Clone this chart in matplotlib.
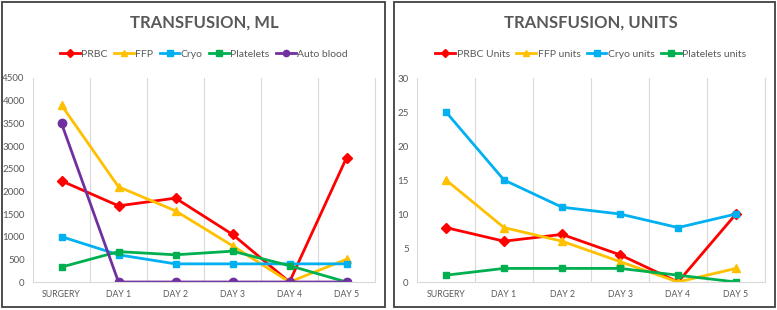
import matplotlib.pyplot as plt
from matplotlib.patches import Rectangle

# categories
days = ['SURGERY', 'DAY 1', 'DAY 2', 'DAY 3', 'DAY 4', 'DAY 5']

# transfusion in ml
prbc_ml = [2230, 1680, 1850, 1050, 0, 2740]
ffp_ml = [3900, 2100, 1570, 800, 0, 500]
cryo_ml = [1000, 600, 400, 400, 400, 400]
plt_ml = [330, 670, 600, 680, 360, 0]
auto_ml = [3500, 0, 0, 0, 0, 0]

# transfusion in units
prbc_u = [8, 6, 7, 4, 0, 10]
ffp_u = [15, 8, 6, 3, 0, 2]
cryo_u = [25, 15, 11, 10, 8, 10]
plt_u = [1, 2, 2, 2, 1, 0]

RED = '#FF0000'
GOLD = '#FFC000'
CYAN = '#00B0F0'
GREEN = '#00B050'
PURPLE = '#7030A0'
GRAY = '#595959'

plt.rcParams['font.family'] = ['Lato', 'DejaVu Sans']

W, H = 777, 310
fig = plt.figure(figsize=(W / 100, H / 100), dpi=100)


def px(x0, y0, x1, y1):
    # pixel box -> figure fraction
    return [x0 / W, 1 - y1 / H, (x1 - x0) / W, (y1 - y0) / H]


def panel(box, axbox, title, series, ymax, ystep):
    fig.add_artist(Rectangle((box[0], box[1]), box[2], box[3], transform=fig.transFigure,
                             fill=False, edgecolor='#404040', lw=1.3))
    ax = fig.add_axes(axbox)
    x = range(len(days))
    for vals, name, color, marker, ms in series:
        ax.plot(x, vals, color=color, lw=2, marker=marker, ms=ms, label=name)
    ax.set_xlim(-0.5, len(days) - 0.5)
    ax.set_ylim(0, ymax)
    ax.set_yticks(range(0, ymax + 1, ystep))
    ax.set_xticks(list(x))
    ax.set_xticklabels(days)
    for b in [k - 0.5 for k in range(len(days) + 1)]:
        ax.axvline(b, color='#D9D9D9', lw=0.8, zorder=0)
    for s in ['top', 'left']:
        ax.spines[s].set_visible(False)
    ax.spines['right'].set_color('#D9D9D9')
    ax.spines['bottom'].set_color('#D9D9D9')
    ax.tick_params(axis='both', length=0, labelsize=7, colors=GRAY, pad=6)
    for lbl in ax.get_xticklabels():
        lbl.set_fontsize(6.3)
    fig.text(axbox[0] + axbox[2] / 2, 1 - 23 / H, title, ha='center', va='center',
             fontsize=12, fontweight='bold', color=GRAY)
    ax.legend(loc='center', bbox_to_anchor=(0.5, 1 + 24 / (axbox[3] * H)), ncol=len(series),
              frameon=False, fontsize=7.5, handlelength=1.9, handletextpad=0.15,
              columnspacing=0.6, labelcolor=GRAY, markerscale=0.75)
    return ax


panel(px(2, 2, 385, 307), px(33, 78, 375, 282), 'TRANSFUSION, ML',
      [(prbc_ml, 'PRBC', RED, 'D', 5),
       (ffp_ml, 'FFP', GOLD, '^', 6),
       (cryo_ml, 'Cryo', CYAN, 's', 5),
       (plt_ml, 'Platelets', GREEN, 's', 5),
       (auto_ml, 'Auto blood', PURPLE, 'o', 6)],
      4500, 500)

panel(px(394, 2, 775, 307), px(417, 78, 765, 282), 'TRANSFUSION, UNITS',
      [(prbc_u, 'PRBC Units', RED, 'D', 5),
       (ffp_u, 'FFP units', GOLD, '^', 6),
       (cryo_u, 'Cryo units', CYAN, 's', 5),
       (plt_u, 'Platelets units', GREEN, 's', 5)],
      30, 5)

fig.savefig('out.png', dpi=100)
